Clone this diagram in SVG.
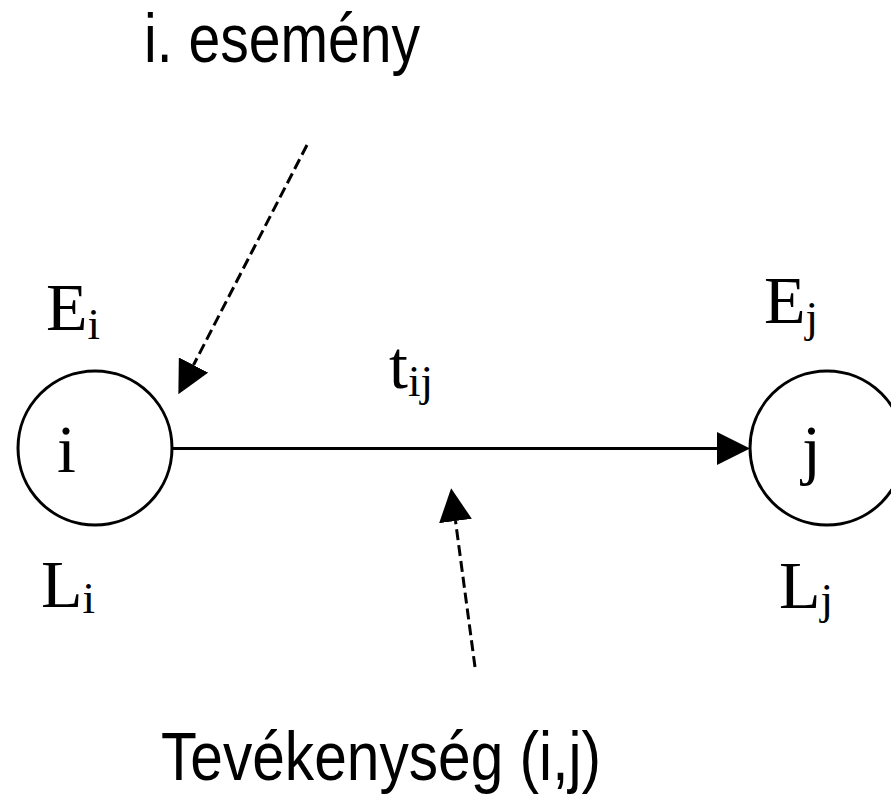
<svg xmlns="http://www.w3.org/2000/svg" width="891" height="797" viewBox="0 0 891 797">
  <style>
    .node { fill: #ffffff; stroke: #000000; stroke-width: 3; }
    .serif { font-family: "Liberation Serif", "Times New Roman", serif; font-size: 68px; fill: #000000; }
    .sub { font-size: 45px; }
    .sans { font-family: "Liberation Sans", Arial, sans-serif; font-size: 68px; fill: #000000; }
    .edge { stroke: #000000; stroke-width: 3; fill: none; }
    .dash { stroke-dasharray: 11 5; }
  </style>
  <defs>
    <marker id="arrow" markerUnits="userSpaceOnUse" markerWidth="33" markerHeight="33" viewBox="0 0 33 33" refX="0" refY="16.5" orient="auto">
      <path d="M0,0 L33,16.5 L0,33 z" fill="#000000"/>
    </marker>
  </defs>
  <rect width="891" height="797" fill="#ffffff"/>

  <g id="connectors">
    <line id="activity" class="edge" x1="173" y1="448.5" x2="717" y2="448.5" marker-end="url(#arrow)"/>
    <line id="event-pointer" class="edge dash" x1="307" y1="145" x2="193.5" y2="365" marker-end="url(#arrow)"/>
    <line id="activity-pointer" class="edge dash" x1="475" y1="667" x2="455.5" y2="521" marker-end="url(#arrow)"/>
  </g>

  <g id="node-i">
    <circle class="node" cx="95" cy="448" r="77"/>
    <text class="serif" x="57" y="472">i</text>
    <text class="serif" x="46" y="330">E<tspan class="sub" y="339">i</tspan></text>
    <text class="serif" x="41" y="607">L<tspan class="sub" y="613">i</tspan></text>
  </g>

  <g id="node-j">
    <circle class="node" cx="827" cy="448" r="77"/>
    <text class="serif" x="802" y="472">j</text>
    <text class="serif" x="764" y="323">E<tspan class="sub" y="332">j</tspan></text>
    <text class="serif" x="779" y="608">L<tspan class="sub" y="614">j</tspan></text>
  </g>

  <g id="label-tij">
    <text class="serif" x="389" y="388">t<tspan class="sub" y="396">ij</tspan></text>
  </g>

  <g id="label-event">
    <text class="sans" x="144" y="62" textLength="276" lengthAdjust="spacingAndGlyphs">i. esemény</text>
  </g>

  <g id="label-activity">
    <text class="sans" x="161" y="780" textLength="440" lengthAdjust="spacingAndGlyphs">Tevékenység (i,j)</text>
  </g>
</svg>
